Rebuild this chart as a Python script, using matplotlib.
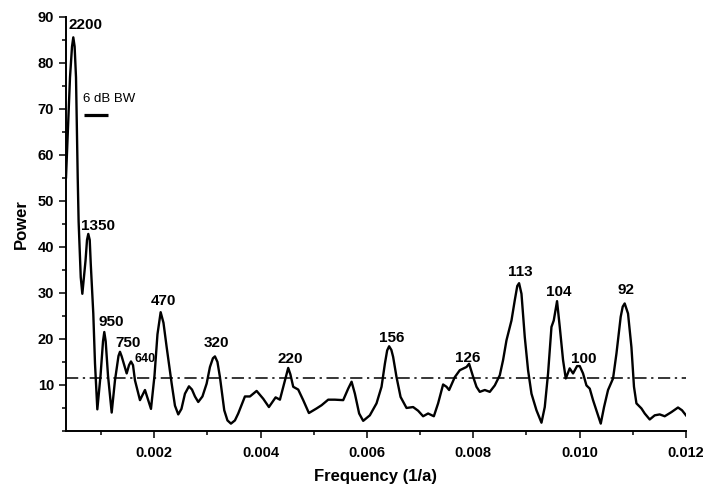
import matplotlib
matplotlib.use("Agg")
import matplotlib.pyplot as plt
from matplotlib.ticker import MultipleLocator, FixedLocator

plt.rcParams['font.family'] = ['Liberation Sans', 'DejaVu Sans']

# power spectrum
freq = [0.000340, 0.000415, 0.000453, 0.000477, 0.000502, 0.000528, 0.000560, 0.000577,
        0.000617, 0.000647, 0.000707, 0.000735, 0.000759, 0.000786, 0.000805, 0.000853,
        0.000885, 0.000929, 0.000989, 0.001036, 0.001060, 0.001086, 0.001130, 0.001199,
        0.001261, 0.001327, 0.001355, 0.001387, 0.001481, 0.001525, 0.001562, 0.001600,
        0.001637, 0.001731, 0.001825, 0.001938, 0.002004, 0.002060, 0.002120, 0.002173,
        0.002233, 0.002327, 0.002389, 0.002451, 0.002511, 0.002577, 0.002652, 0.002709,
        0.002765, 0.002827, 0.002906, 0.002985, 0.003047, 0.003103, 0.003141, 0.003188,
        0.003235, 0.003316, 0.003376, 0.003442, 0.003517, 0.003579, 0.003705, 0.003799,
        0.003925, 0.004049, 0.004156, 0.004282, 0.004363, 0.004457, 0.004519, 0.004560,
        0.004613, 0.004707, 0.004801, 0.004908, 0.005053, 0.005147, 0.005271, 0.005397,
        0.005553, 0.005647, 0.005711, 0.005773, 0.005853, 0.005929, 0.006054, 0.006180,
        0.006274, 0.006337, 0.006380, 0.006417, 0.006459, 0.006492, 0.006556, 0.006632,
        0.006744, 0.006868, 0.006962, 0.007056, 0.007150, 0.007258, 0.007338, 0.007432,
        0.007496, 0.007545, 0.007652, 0.007746, 0.007872, 0.007921, 0.007996, 0.008060,
        0.008122, 0.008216, 0.008310, 0.008404, 0.008498, 0.008560, 0.008624, 0.008718,
        0.008780, 0.008827, 0.008861, 0.008906, 0.008968, 0.009030, 0.009094, 0.009188,
        0.009282, 0.009344, 0.009406, 0.009470, 0.009513, 0.009575, 0.009626, 0.009688,
        0.009739, 0.009813, 0.009876, 0.009951, 0.010002, 0.010064, 0.010128, 0.010190,
        0.010252, 0.010335, 0.010397, 0.010459, 0.010534, 0.010628, 0.010692, 0.010772,
        0.010810, 0.010847, 0.010910, 0.010974, 0.011022, 0.011068, 0.011162, 0.011224,
        0.011318, 0.011412, 0.011506, 0.011600, 0.011726, 0.011850, 0.011925, 0.012000]
power = [55.1, 76.8, 83.5, 85.5, 83.5, 76.8, 55.1, 45.5,
         33.4, 29.8, 37.0, 41.5, 42.8, 41.5, 36.4, 25.5,
         14.7, 4.7, 12.0, 19.5, 21.5, 19.5, 12.0, 4.0,
         11.0, 16.3, 17.2, 16.2, 12.5, 14.3, 15.1, 14.3,
         11.0, 6.7, 8.9, 4.8, 12.0, 21.0, 25.8, 23.5,
         18.2, 10.3, 5.5, 3.6, 4.8, 8.1, 9.7, 9.0,
         7.5, 6.3, 7.5, 10.3, 13.9, 15.8, 16.2, 15.0,
         11.7, 4.5, 2.3, 1.6, 2.3, 3.8, 7.5, 7.5,
         8.7, 7.0, 5.2, 7.3, 6.8, 11.0, 13.7, 12.3,
         9.6, 9.0, 6.7, 3.9, 4.9, 5.6, 6.8, 6.8,
         6.7, 9.2, 10.7, 8.1, 3.8, 2.2, 3.4, 6.0,
         9.6, 14.6, 17.5, 18.4, 17.6, 16.1, 11.7, 7.4,
         5.0, 5.2, 4.4, 3.2, 3.8, 3.2, 6.0, 10.1,
         9.6, 8.9, 11.7, 13.2, 13.9, 14.6, 11.8, 9.6,
         8.5, 8.9, 8.5, 9.9, 12.1, 15.4, 19.7, 24.0,
         28.4, 31.5, 32.1, 29.8, 20.4, 13.2, 8.1, 4.5,
         1.8, 5.2, 12.5, 22.6, 24.0, 28.2, 22.6, 15.4,
         11.4, 13.6, 12.5, 14.1, 14.1, 12.5, 9.9, 9.2,
         6.7, 3.8, 1.6, 5.2, 8.9, 11.4, 16.8, 24.8,
         27.0, 27.7, 25.5, 18.2, 9.6, 6.0, 4.9, 3.8,
         2.5, 3.4, 3.6, 3.2, 4.1, 5.1, 4.5, 3.4]

threshold = 11.5

peak_labels = ["2200", "1350", "950", "750", "640", "470", "320", "220",
               "156", "126", "113", "104", "100", "92"]
label_x = [0.000713, 0.000947, 0.001183, 0.001502, 0.001820, 0.002177, 0.003166,
           0.004560, 0.006463, 0.007887, 0.008889, 0.009611, 0.010081, 0.010880]
label_y = [87.4, 43.6, 22.7, 18.3, 14.9, 27.4, 18.3, 14.7, 19.4, 14.9, 33.6, 29.4,
           14.8, 29.7]

fig = plt.figure(figsize=(7.03, 4.86), dpi=100)
ax = fig.add_axes([0.0939, 0.1132, 0.8819, 0.8526])

ax.plot(freq, power, color='black', lw=1.7, solid_joinstyle='round')
ax.axhline(threshold, color='black', lw=1.1, linestyle=(0, (8, 3, 1.5, 3)))

for lab, x, y in zip(peak_labels, label_x, label_y):
    fs = 9 if lab == "640" else 11
    ax.text(x, y, lab, ha='center', va='baseline', fontsize=fs, fontweight='bold')

# bandwidth marker
ax.text(0.000654, 71.4, "6 dB BW", ha='left', va='baseline', fontsize=9.5)
ax.plot([0.000684, 0.001135], [68.7, 68.7], color='black', lw=2.3, solid_capstyle='butt')

ax.set_xlim(0.00034, 0.012)
ax.set_ylim(0, 90)
ax.xaxis.set_major_locator(FixedLocator([0.002, 0.004, 0.006, 0.008, 0.010, 0.012]))
ax.xaxis.set_minor_locator(FixedLocator([0.001, 0.003, 0.005, 0.007, 0.009, 0.011]))
ax.set_xticklabels(["0.002", "0.004", "0.006", "0.008", "0.010", "0.012"])
ax.yaxis.set_major_locator(FixedLocator([10, 20, 30, 40, 50, 60, 70, 80, 90]))
ax.yaxis.set_minor_locator(MultipleLocator(5))

for s in ['top', 'right']:
    ax.spines[s].set_visible(False)
for s in ['left', 'bottom']:
    ax.spines[s].set_linewidth(1.4)

ax.tick_params(which='major', direction='out', length=5, width=1.1, labelsize=10.5)
ax.tick_params(which='minor', direction='out', length=3, width=1.1)
ax.tick_params(axis='x', pad=6)
for t in ax.get_xticklabels() + ax.get_yticklabels():
    t.set_fontweight('bold')

ax.set_xlabel("Frequency (1/a)", fontsize=12, fontweight='bold', labelpad=6)
ax.set_ylabel("Power", fontsize=12, fontweight='bold', labelpad=6)

fig.savefig("out.png", dpi=100)
